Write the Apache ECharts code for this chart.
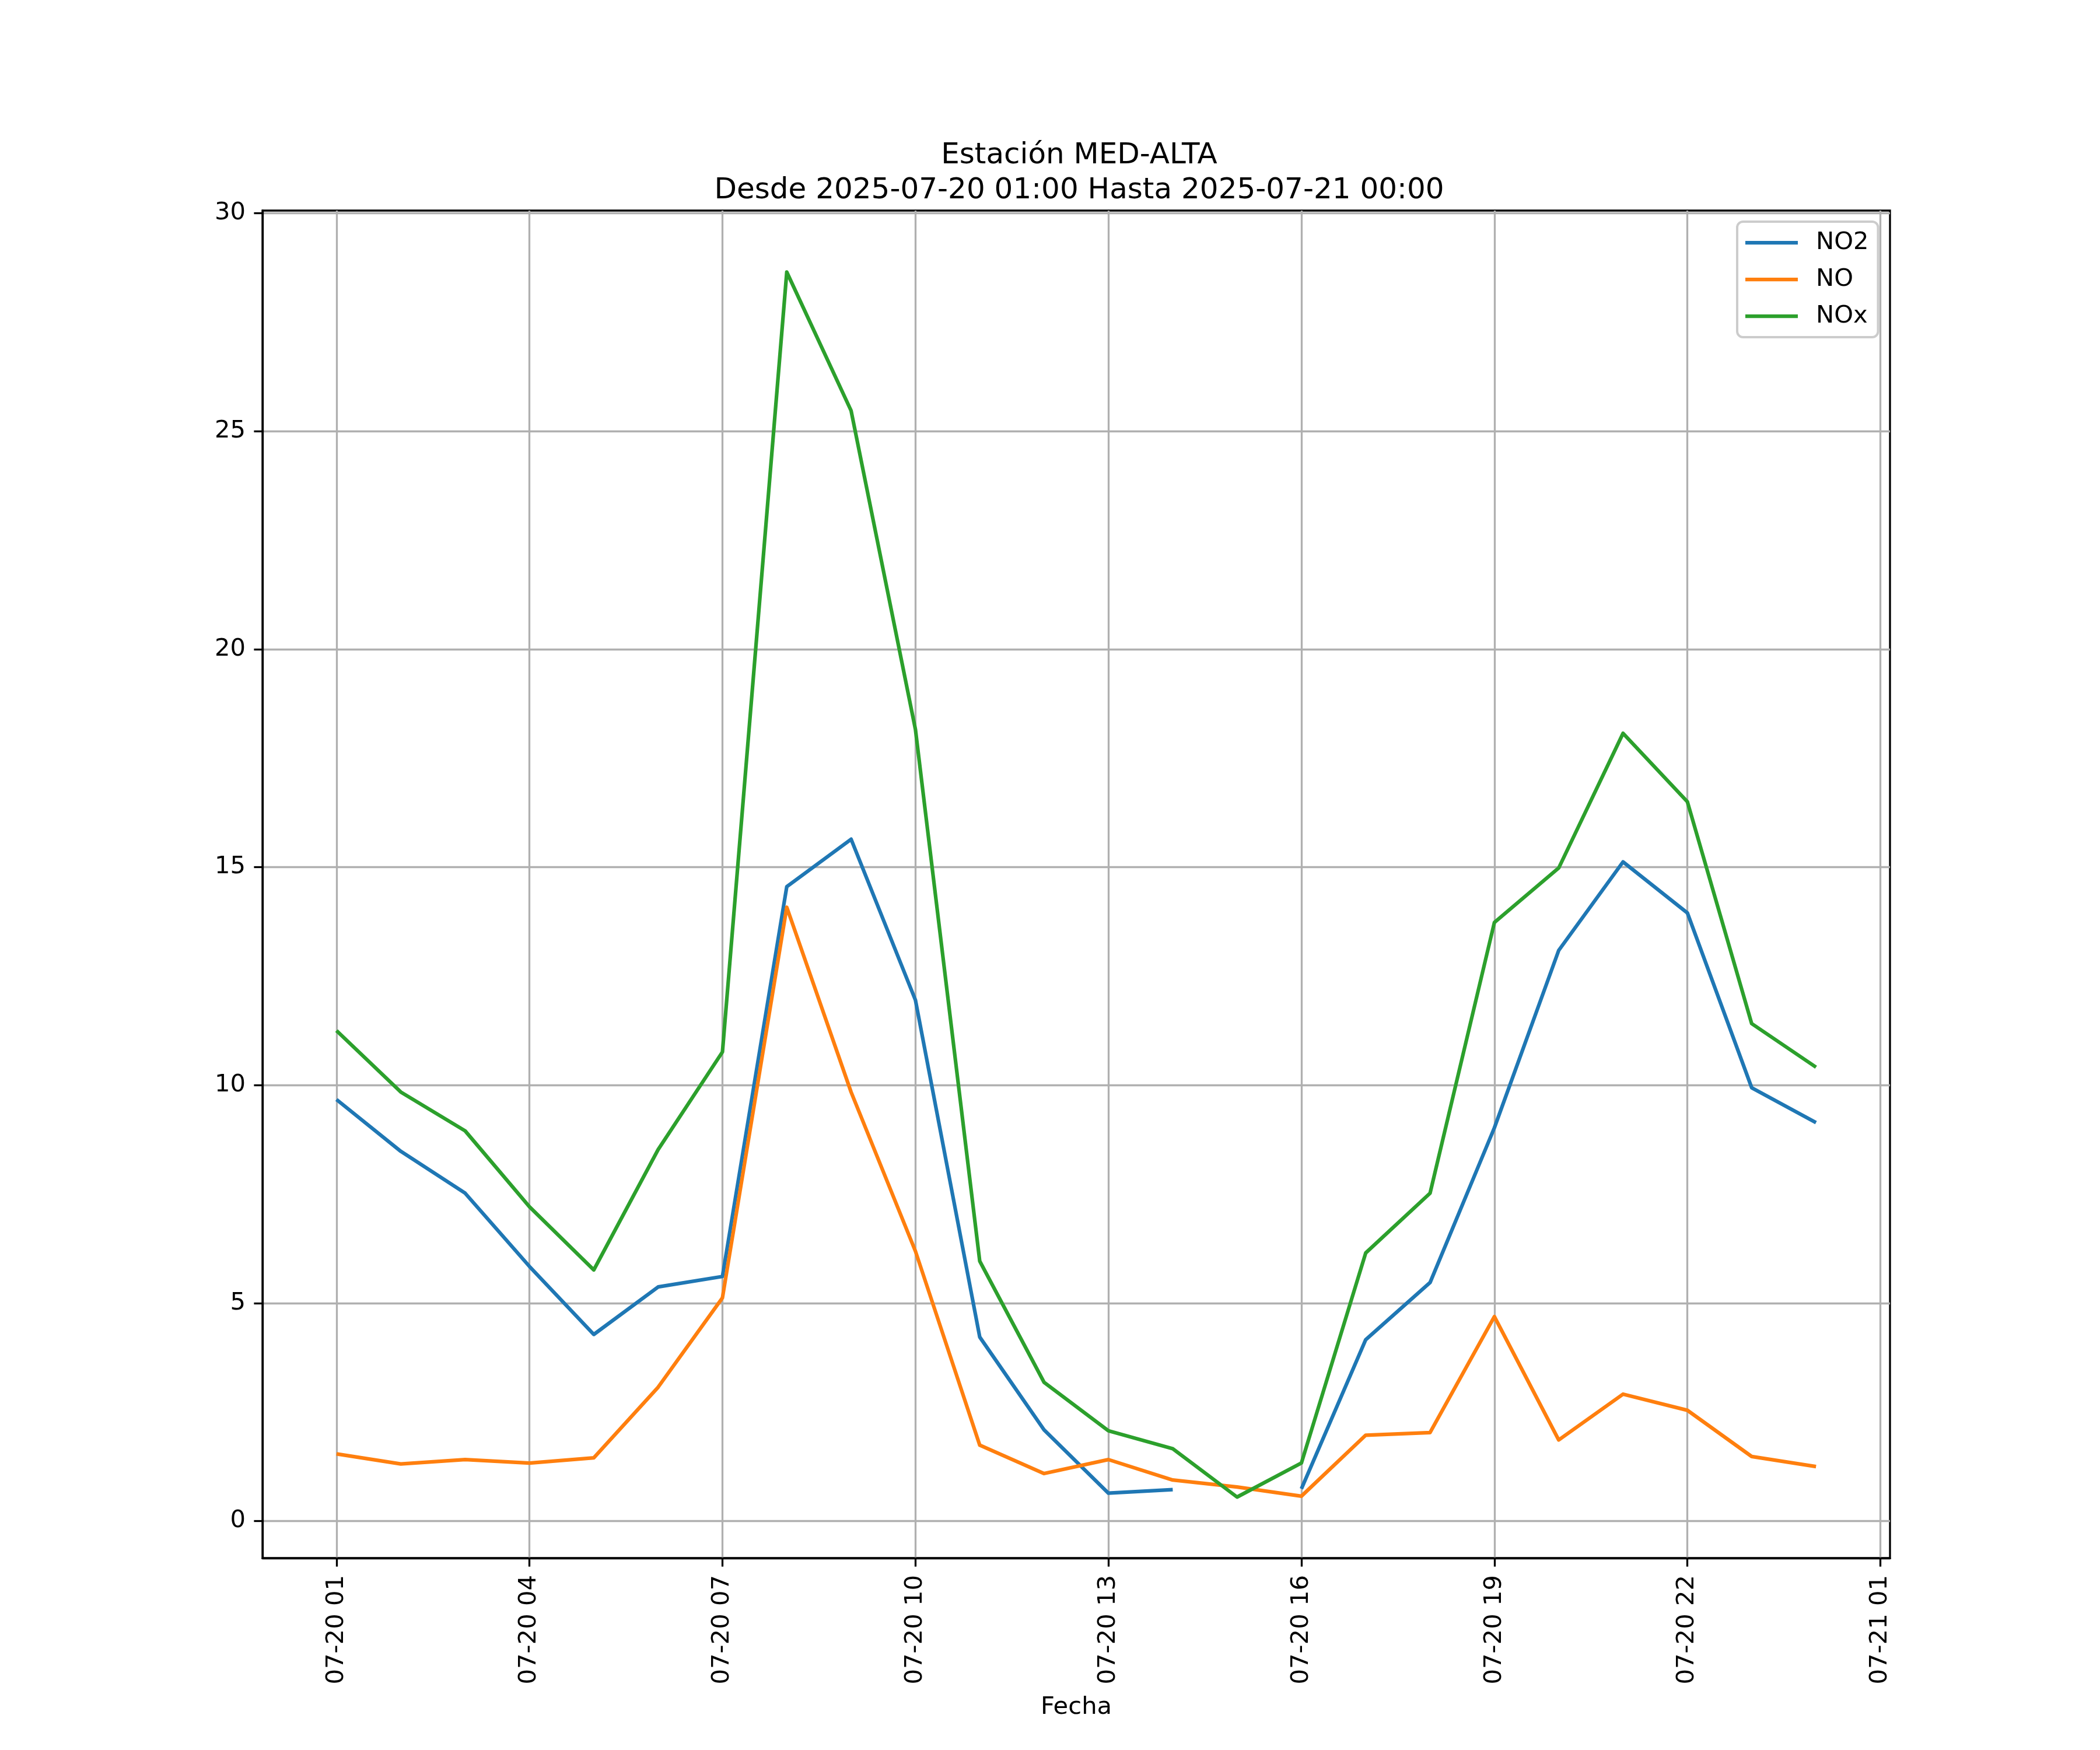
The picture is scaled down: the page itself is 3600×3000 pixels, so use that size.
<!DOCTYPE html>
<html>
<head>
<meta charset="utf-8">
<script src="https://cdn.jsdelivr.net/npm/echarts@6/dist/echarts.min.js"></script>
<style>html,body{margin:0;padding:0;background:#fff}#c{width:3600px;height:3000px}</style>
</head>
<body>
<div id="c"></div>
<script>
// ---- data ----
const timestamps = ['2025-07-20 01:00','2025-07-20 02:00','2025-07-20 03:00','2025-07-20 04:00','2025-07-20 05:00','2025-07-20 06:00',
  '2025-07-20 07:00','2025-07-20 08:00','2025-07-20 09:00','2025-07-20 10:00','2025-07-20 11:00','2025-07-20 12:00',
  '2025-07-20 13:00','2025-07-20 14:00','2025-07-20 15:00','2025-07-20 16:00','2025-07-20 17:00','2025-07-20 18:00',
  '2025-07-20 19:00','2025-07-20 20:00','2025-07-20 21:00','2025-07-20 22:00','2025-07-20 23:00','2025-07-21 00:00'];
const no2 = [9.67, 8.48, 7.52, 5.84, 4.28, 5.37, 5.61, 14.55, 15.64, 11.95, 4.22, 2.09, 0.64, 0.72, null, 0.74, 4.16, 5.47, 9.02, 13.09, 15.12, 13.95, 9.94, 9.14];
const no  = [1.54, 1.31, 1.41, 1.33, 1.45, 3.07, 5.12, 14.08, 9.84, 6.19, 1.74, 1.09, 1.41, 0.94, 0.78, 0.57, 1.97, 2.03, 4.69, 1.86, 2.91, 2.54, 1.48, 1.25];
const nox = [11.25, 9.84, 8.95, 7.21, 5.76, 8.52, 10.76, 28.65, 25.47, 18.16, 5.96, 3.18, 2.07, 1.66, 0.55, 1.33, 6.15, 7.52, 13.73, 14.98, 18.07, 16.5, 11.41, 10.41];
const seriesNames = ['NO2', 'NO', 'NOx'];
const xTickValues = [0, 3, 6, 9, 12, 15, 18, 21, 24]; // hours since 2025-07-20 01:00
const xTickLabels = ['07-20 01','07-20 04','07-20 07','07-20 10','07-20 13','07-20 16','07-20 19','07-20 22','07-21 01'];
const yTickValues = [0, 5, 10, 15, 20, 25, 30];
const titleText = 'Estación MED-ALTA\nDesde 2025-07-20 01:00 Hasta 2025-07-21 00:00';
const xName = 'Fecha';

// ---- build ----
const t0 = Date.parse(timestamps[0].replace(' ', 'T') + ':00Z');
const hrs = timestamps.map(t => (Date.parse(t.replace(' ', 'T') + ':00Z') - t0) / 3600000);
const pair = arr => arr.map((v, i) => [hrs[i], v]);
const FONT = 'DejaVu Sans';
const FS = 41.7;
const colors = ['#1f77b4', '#ff7f0e', '#2ca02c'];

const chart = echarts.init(document.getElementById('c'), null, {renderer: 'canvas', width: 3600, height: 3000});
chart.setOption({
  animation: false,
  backgroundColor: '#ffffff',
  color: colors,
  title: {
    text: titleText, left: 1845, top: 232, textAlign: 'center',
    textStyle: {fontFamily: FONT, fontSize: 50, fontWeight: 'normal', color: '#000', lineHeight: 60}
  },
  legend: {
    orient: 'vertical', left: 2978, top: 380,
    data: seriesNames,
    icon: 'rect',
    itemWidth: 90, itemHeight: 6.25, itemGap: 21,
    padding: [15, 16, 15, 14],
    backgroundColor: '#ffffff', borderColor: '#cccccc', borderWidth: 4, borderRadius: 10,
    textStyle: {fontFamily: FONT, fontSize: FS, color: '#000', padding: [0, 0, 0, 26], lineHeight: 42}
  },
  grid: {left: 450, right: 360, top: 361, bottom: 329, show: true, borderColor: '#000', borderWidth: 3.3, backgroundColor: 'transparent'},
  xAxis: {
    type: 'value', min: -1.15, max: 24.15,
    name: xName, nameLocation: 'middle', nameGap: 235,
    nameTextStyle: {fontFamily: FONT, fontSize: FS, color: '#000'},
    axisLine: {show: true, onZero: false, lineStyle: {color: '#000', width: 3.3}},
    axisTick: {show: true, customValues: xTickValues, length: 14.6, lineStyle: {color: '#000', width: 3.3}},
    axisLabel: {
      customValues: xTickValues, rotate: 90, margin: 29,
      fontFamily: FONT, fontSize: FS, color: '#000',
      formatter: v => { const i = xTickValues.indexOf(v); return i >= 0 ? xTickLabels[i] : ''; }
    },
    splitLine: {show: true, lineStyle: {color: '#b0b0b0', width: 3.3}}
  },
  yAxis: {
    type: 'value', min: -0.85, max: 30.06,
    axisLine: {show: true, onZero: false, lineStyle: {color: '#000', width: 3.3}},
    axisTick: {show: true, customValues: yTickValues, length: 14.6, lineStyle: {color: '#000', width: 3.3}},
    axisLabel: {customValues: yTickValues, margin: 29, fontFamily: FONT, fontSize: FS, color: '#000', formatter: v => String(v)},
    splitLine: {show: true, lineStyle: {color: '#b0b0b0', width: 3.3}}
  },
  series: [
    {name: seriesNames[0], type: 'line', data: pair(no2), symbol: 'none', connectNulls: false, lineStyle: {width: 6.25, join: 'round'}},
    {name: seriesNames[1], type: 'line', data: pair(no), symbol: 'none', lineStyle: {width: 6.25, join: 'round'}},
    {name: seriesNames[2], type: 'line', data: pair(nox), symbol: 'none', lineStyle: {width: 6.25, join: 'round'}}
  ]
});
</script>
</body>
</html>
